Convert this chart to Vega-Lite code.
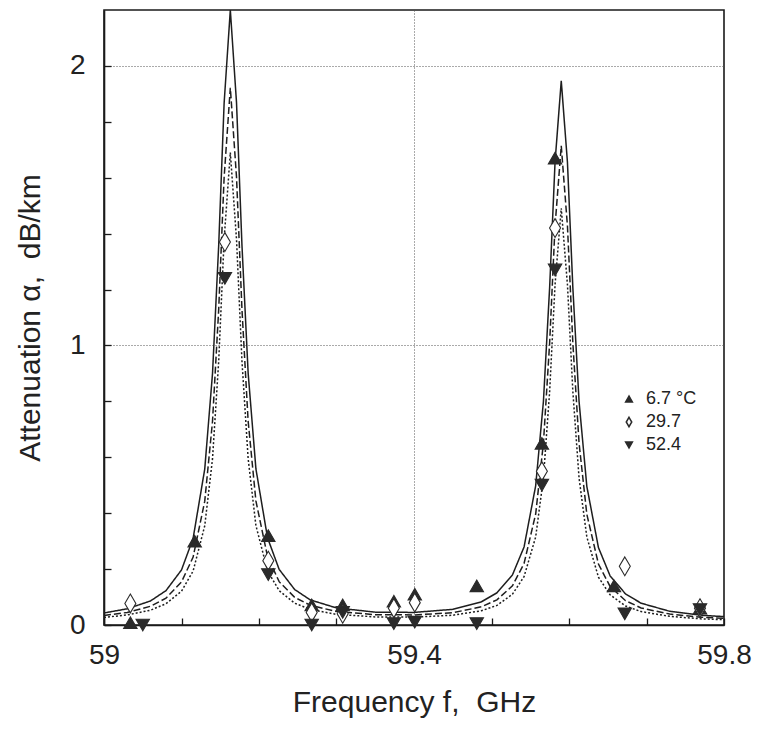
{
  "$schema": "https://vega.github.io/schema/vega-lite/v6.json",
  "autosize": "none",
  "width": 620,
  "height": 615,
  "padding": {"left": 104, "top": 10, "right": 34, "bottom": 107},
  "background": "white",
  "config": {
    "font": "Liberation Sans",
    "view": {"stroke": "#1a1a1a", "strokeWidth": 1.6},
    "axis": {
      "domainColor": "#1a1a1a",
      "domainWidth": 1.6,
      "tickColor": "#1a1a1a",
      "tickWidth": 1.3,
      "tickSize": -7,
      "labelColor": "#222",
      "labelFont": "Liberation Sans",
      "labelFontSize": 28,
      "titleColor": "#222",
      "titleFont": "Liberation Sans",
      "titleFontSize": 30,
      "titleFontWeight": "normal",
      "gridColor": "#555",
      "gridDash": [1, 2],
      "gridWidth": 1
    }
  },
  "datasets": {
    "curves": [
      {"f": 59.0, "s": 0.043, "d": 0.034, "o": 0.027},
      {"f": 59.03, "s": 0.058, "d": 0.045, "o": 0.036},
      {"f": 59.06, "s": 0.086, "d": 0.067, "o": 0.053},
      {"f": 59.08, "s": 0.123, "d": 0.096, "o": 0.076},
      {"f": 59.10, "s": 0.197, "d": 0.154, "o": 0.121},
      {"f": 59.115, "s": 0.310, "d": 0.243, "o": 0.193},
      {"f": 59.13, "s": 0.558, "d": 0.443, "o": 0.355},
      {"f": 59.14, "s": 0.899, "d": 0.728, "o": 0.594},
      {"f": 59.148, "s": 1.358, "d": 1.129, "o": 0.944},
      {"f": 59.155, "s": 1.867, "d": 1.601, "o": 1.379},
      {"f": 59.163, "s": 2.2, "d": 1.922, "o": 1.69},
      {"f": 59.171, "s": 1.868, "d": 1.602, "o": 1.379},
      {"f": 59.178, "s": 1.359, "d": 1.130, "o": 0.945},
      {"f": 59.186, "s": 0.901, "d": 0.729, "o": 0.595},
      {"f": 59.196, "s": 0.559, "d": 0.444, "o": 0.356},
      {"f": 59.211, "s": 0.312, "d": 0.245, "o": 0.194},
      {"f": 59.226, "s": 0.199, "d": 0.155, "o": 0.123},
      {"f": 59.246, "s": 0.127, "d": 0.099, "o": 0.078},
      {"f": 59.266, "s": 0.090, "d": 0.071, "o": 0.056},
      {"f": 59.30, "s": 0.061, "d": 0.048, "o": 0.038},
      {"f": 59.35, "s": 0.046, "d": 0.037, "o": 0.029},
      {"f": 59.40, "s": 0.045, "d": 0.036, "o": 0.028},
      {"f": 59.45, "s": 0.056, "d": 0.044, "o": 0.035},
      {"f": 59.487, "s": 0.083, "d": 0.065, "o": 0.051},
      {"f": 59.507, "s": 0.115, "d": 0.090, "o": 0.070},
      {"f": 59.527, "s": 0.179, "d": 0.140, "o": 0.110},
      {"f": 59.542, "s": 0.279, "d": 0.220, "o": 0.173},
      {"f": 59.557, "s": 0.498, "d": 0.397, "o": 0.315},
      {"f": 59.567, "s": 0.800, "d": 0.651, "o": 0.526},
      {"f": 59.575, "s": 1.206, "d": 1.008, "o": 0.834},
      {"f": 59.582, "s": 1.656, "d": 1.428, "o": 1.217},
      {"f": 59.590, "s": 1.947, "d": 1.714, "o": 1.491},
      {"f": 59.598, "s": 1.655, "d": 1.427, "o": 1.217},
      {"f": 59.605, "s": 1.205, "d": 1.007, "o": 0.834},
      {"f": 59.613, "s": 0.799, "d": 0.650, "o": 0.525},
      {"f": 59.623, "s": 0.496, "d": 0.396, "o": 0.315},
      {"f": 59.638, "s": 0.277, "d": 0.218, "o": 0.171},
      {"f": 59.653, "s": 0.176, "d": 0.138, "o": 0.108},
      {"f": 59.673, "s": 0.111, "d": 0.087, "o": 0.068},
      {"f": 59.693, "s": 0.078, "d": 0.061, "o": 0.048},
      {"f": 59.73, "s": 0.049, "d": 0.039, "o": 0.031},
      {"f": 59.77, "s": 0.035, "d": 0.028, "o": 0.022},
      {"f": 59.80, "s": 0.030, "d": 0.024, "o": 0.019}
    ],
    "points": [
      {"f": 59.034, "a": 0.008, "T": "6.7 °C"},
      {"f": 59.117, "a": 0.30, "T": "6.7 °C"},
      {"f": 59.212, "a": 0.32, "T": "6.7 °C"},
      {"f": 59.268, "a": 0.072, "T": "6.7 °C"},
      {"f": 59.308, "a": 0.072, "T": "6.7 °C"},
      {"f": 59.374, "a": 0.085, "T": "6.7 °C"},
      {"f": 59.401, "a": 0.11, "T": "6.7 °C"},
      {"f": 59.481, "a": 0.14, "T": "6.7 °C"},
      {"f": 59.565, "a": 0.65, "T": "6.7 °C"},
      {"f": 59.582, "a": 1.67, "T": "6.7 °C"},
      {"f": 59.658, "a": 0.14, "T": "6.7 °C"},
      {"f": 59.769, "a": 0.06, "T": "6.7 °C"},
      {"f": 59.034, "a": 0.077, "T": "29.7"},
      {"f": 59.156, "a": 1.37, "T": "29.7"},
      {"f": 59.212, "a": 0.23, "T": "29.7"},
      {"f": 59.268, "a": 0.045, "T": "29.7"},
      {"f": 59.308, "a": 0.04, "T": "29.7"},
      {"f": 59.374, "a": 0.06, "T": "29.7"},
      {"f": 59.401, "a": 0.08, "T": "29.7"},
      {"f": 59.565, "a": 0.55, "T": "29.7"},
      {"f": 59.582, "a": 1.42, "T": "29.7"},
      {"f": 59.672, "a": 0.21, "T": "29.7"},
      {"f": 59.769, "a": 0.06, "T": "29.7"},
      {"f": 59.05, "a": 0.0, "T": "52.4"},
      {"f": 59.156, "a": 1.24, "T": "52.4"},
      {"f": 59.212, "a": 0.18, "T": "52.4"},
      {"f": 59.268, "a": 0.0, "T": "52.4"},
      {"f": 59.308, "a": 0.045, "T": "52.4"},
      {"f": 59.374, "a": 0.005, "T": "52.4"},
      {"f": 59.401, "a": 0.01, "T": "52.4"},
      {"f": 59.481, "a": 0.005, "T": "52.4"},
      {"f": 59.565, "a": 0.50, "T": "52.4"},
      {"f": 59.582, "a": 1.27, "T": "52.4"},
      {"f": 59.672, "a": 0.04, "T": "52.4"},
      {"f": 59.769, "a": 0.055, "T": "52.4"}
    ]
  },
  "layer": [
    {
      "data": {"name": "curves"},
      "transform": [{"fold": ["s", "d", "o"], "as": ["curve", "a"]}],
      "mark": {"type": "line", "color": "#1e1e1e", "strokeWidth": 1.5},
      "encoding": {
        "x": {
          "field": "f", "type": "quantitative",
          "scale": {"domain": [59, 59.8], "nice": false, "zero": false},
          "axis": {
            "values": [59, 59.05, 59.1, 59.15, 59.2, 59.25, 59.3, 59.35, 59.4, 59.45, 59.5, 59.55, 59.6, 59.65, 59.7, 59.75, 59.8],
            "labelExpr": "abs(datum.value-59)<1e-6 ? '59' : abs(datum.value-59.4)<1e-6 ? '59.4' : abs(datum.value-59.8)<1e-6 ? '59.8' : ''",
            "labelPadding": 23,
            "labelFlush": false,
            "labelOverlap": false,
            "grid": true,
            "gridOpacity": {"condition": {"test": "abs(datum.value-59.4)<1e-6", "value": 1}, "value": 0},
            "title": "Frequency f,\u00a0 GHz",
            "titlePadding": 18
          }
        },
        "y": {
          "field": "a", "type": "quantitative",
          "scale": {"domain": [0, 2.2], "nice": false},
          "axis": {
            "values": [0, 0.1, 0.2, 0.3, 0.4, 0.5, 0.6, 0.7, 0.8, 0.9, 1, 1.1, 1.2, 1.3, 1.4, 1.5, 1.6, 1.7, 1.8, 1.9, 2, 2.1],
            "labelExpr": "datum.value == 0 ? '0' : datum.value == 1 ? '1' : datum.value == 2 ? '2' : ''",
            "labelPadding": 26,
            "labelFlush": false,
            "labelOverlap": false,
            "grid": true,
            "gridOpacity": {"condition": {"test": "datum.value == 1 || datum.value == 2", "value": 1}, "value": 0},
            "title": "Attenuation α,\u00a0 dB/km",
            "titlePadding": 24
          }
        },
        "strokeDash": {
          "field": "curve", "type": "nominal",
          "scale": {"domain": ["s", "d", "o"], "range": [[1, 0], [7, 3], [2, 2]]},
          "legend": null
        }
      }
    },
    {
      "data": {"name": "points"},
      "mark": {"type": "point", "filled": false, "strokeWidth": 1.1, "opacity": 1},
      "encoding": {
        "x": {"field": "f", "type": "quantitative"},
        "y": {"field": "a", "type": "quantitative"},
        "shape": {
          "field": "T", "type": "nominal",
          "scale": {"domain": ["6.7 °C", "29.7", "52.4"], "range": ["triangle-up", "M0,-1.4L0.82,0L0,1.4L-0.82,0Z", "triangle-down"]},
          "legend": {
            "orient": "none", "legendX": 516, "legendY": 380, "title": null,
            "labelFontSize": 18, "labelColor": "#222", "labelFont": "Liberation Sans",
            "symbolSize": 45, "rowPadding": 5, "labelOffset": 8
          }
        },
        "fill": {
          "field": "T", "type": "nominal",
          "scale": {"domain": ["6.7 °C", "29.7", "52.4"], "range": ["#2a2a2a", "#ffffff", "#2a2a2a"]}
        },
        "stroke": {
          "field": "T", "type": "nominal",
          "scale": {"domain": ["6.7 °C", "29.7", "52.4"], "range": ["#2a2a2a", "#2a2a2a", "#2a2a2a"]}
        },
        "size": {"value": 180}
      }
    }
  ]
}
